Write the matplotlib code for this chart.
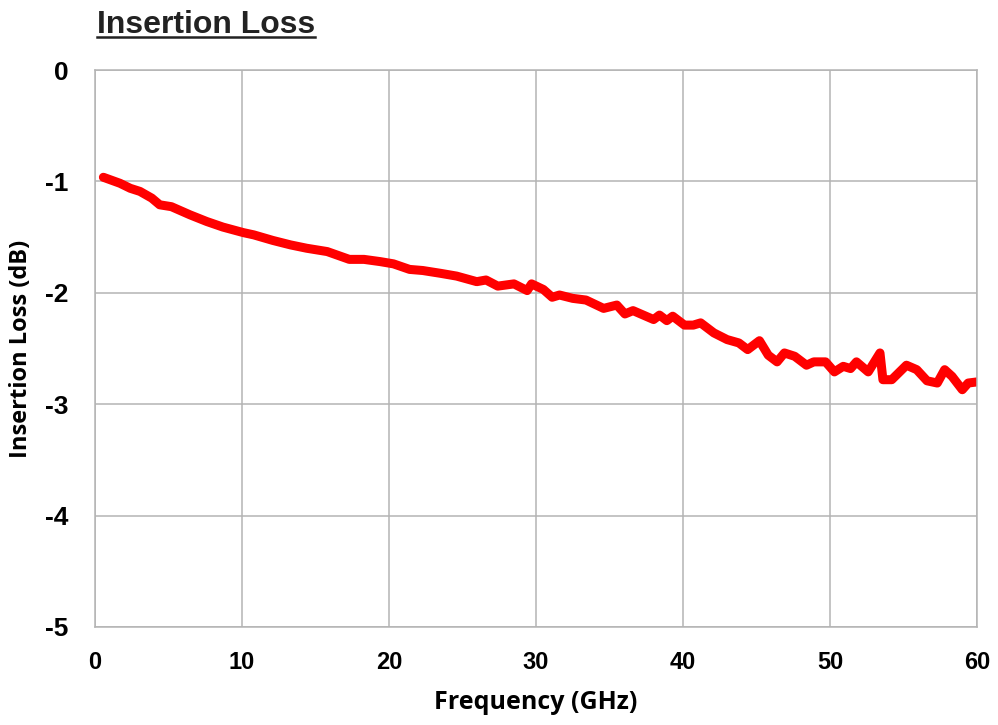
import matplotlib
matplotlib.use("Agg")
import matplotlib.pyplot as plt
from matplotlib.lines import Line2D

# frequency (GHz) and insertion loss (dB)
freq = [0.57, 1.7, 2.4, 3.06, 3.86, 4.4, 5.2, 6.46, 7.6, 8.7, 10.1, 10.8, 12.1,
        13.3, 14.4, 15.8, 17.3, 18.3, 19.4, 20.3, 21.4, 22.3, 23.5, 24.6, 25.97,
        26.6, 27.4, 28.5, 29.4, 29.7, 30.5, 31.1, 31.6, 32.5, 33.4, 34.6, 35.5,
        36.05, 36.6, 38.0, 38.4, 38.9, 39.3, 40.1, 40.7, 41.2, 42.1, 43.0, 43.8,
        44.4, 45.2, 45.8, 46.4, 46.9, 47.6, 48.4, 48.9, 49.7, 50.3, 50.9, 51.4,
        51.8, 52.6, 53.4, 53.6, 54.2, 55.2, 55.9, 56.6, 57.3, 57.8, 58.3, 59.0,
        59.4, 60.0]
loss = [-0.963, -1.017, -1.062, -1.09, -1.15, -1.21, -1.227, -1.30, -1.36, -1.41,
        -1.46, -1.48, -1.53, -1.57, -1.60, -1.63, -1.70, -1.70, -1.72, -1.74,
        -1.79, -1.80, -1.825, -1.85, -1.90, -1.885, -1.94, -1.92, -1.98, -1.92,
        -1.97, -2.04, -2.02, -2.05, -2.065, -2.14, -2.11, -2.19, -2.16, -2.24,
        -2.20, -2.25, -2.21, -2.29, -2.29, -2.27, -2.36, -2.42, -2.45, -2.51,
        -2.43, -2.56, -2.62, -2.54, -2.57, -2.65, -2.62, -2.62, -2.71, -2.66,
        -2.68, -2.62, -2.71, -2.54, -2.78, -2.78, -2.65, -2.69, -2.79, -2.81,
        -2.69, -2.75, -2.87, -2.81, -2.80]

x_ticks = [0, 10, 20, 30, 40, 50, 60]
y_ticks = [0, -1, -2, -3, -4, -5]

label_font = ['Liberation Sans', 'DejaVu Sans']
cal_font = ['Open Sans', 'Liberation Sans', 'DejaVu Sans']

fig = plt.figure(figsize=(9.98, 7.25), dpi=100)
ax = fig.add_axes([95 / 998, 1 - 627 / 725, 882 / 998, 557 / 725])

ax.plot(freq, loss, color='#ff0000', linewidth=6.5, solid_capstyle='round',
        solid_joinstyle='round')

ax.set_xlim(0, 60)
ax.set_ylim(-5, 0)
ax.set_xticks(x_ticks)
ax.set_yticks(y_ticks)
ax.set_xticklabels([str(t) for t in x_ticks], family=label_font,
                   fontweight='bold', fontsize=17)
ax.set_yticklabels([str(t) for t in y_ticks], family=label_font,
                   fontweight='bold', fontsize=19)
ax.tick_params(axis='both', length=0)
ax.tick_params(axis='x', pad=17)
ax.tick_params(axis='y', pad=19)
ax.grid(True, color='#b4b4b4', linewidth=1.1)
for s in ax.spines.values():
    s.set_color('#b4b4b4')
    s.set_linewidth(1.1)

ax.set_xlabel('Frequency (GHz)', family=cal_font, fontweight='bold',
              fontsize=18, labelpad=12)
ax.set_ylabel('Insertion Loss (dB)', family=cal_font, fontweight='bold',
              fontsize=17)
ax.yaxis.set_label_coords(-62 / 882, 0.5)

# underlined title
title = fig.text(97 / 998, 1 - 33 / 725, 'Insertion Loss', family=label_font,
                 fontweight='bold', fontsize=23, color='#222222',
                 ha='left', va='baseline')
fig.canvas.draw()
bb = title.get_window_extent().transformed(fig.transFigure.inverted())
uy = 1 - 37 / 725
fig.add_artist(Line2D([bb.x0, bb.x1], [uy, uy], color='#222222', linewidth=1.8,
                      transform=fig.transFigure))

fig.savefig('out.png', dpi=100)
